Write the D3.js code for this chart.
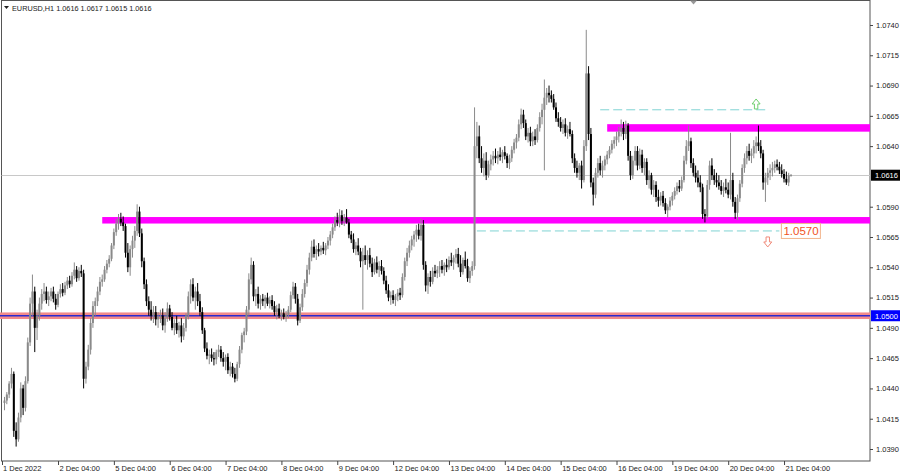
<!DOCTYPE html>
<html>
<head>
<meta charset="utf-8">
<script src="https://cdn.jsdelivr.net/npm/d3@7"></script>
<style>
  body { margin: 0; background: #fff; }
  svg text { font-family: "Liberation Sans", Arial, sans-serif; }
</style>
</head>
<body>
<svg id="chart" width="900" height="472"></svg>
<script>
// EURUSD H1 bars, each [open, high, low, close] in pips above 1.0000
const dec01 = [
  [428,433,422,430],[430,437,427,435],[435,446,432,444],[444,457,440,452],[452,454,400,405],
  [405,412,392,398],[398,420,396,416],[416,445,412,440],[440,443,418,424],[424,450,421,446],
  [446,482,444,478],[478,515,475,510],[510,534,500,520],[520,524,470,490],[490,505,480,500],
  [500,515,496,510],[510,522,505,518],[518,527,512,520],[520,524,510,513]];
const dec02 = [
  [513,520,508,516],[516,523,512,520],[520,524,511,514],[514,518,505,509],[509,520,507,518],
  [518,526,515,522],[522,527,516,519],[519,528,517,525],[525,532,522,529],[529,533,523,526],
  [526,536,524,533],[533,544,530,538],[538,541,528,531],[531,540,529,537],[537,542,532,535],
  [535,538,440,448],[448,462,444,458],[458,476,455,472],[472,498,468,494],[494,512,490,508],
  [508,515,500,512],[512,524,508,520],[520,532,517,528],[528,534,524,530]];
const dec05 = [
  [530,541,528,538],[538,546,535,543],[543,550,540,547],[547,560,545,558],[558,572,555,569],
  [569,580,566,576],[576,584,571,580],[580,585,574,577],[577,582,570,574],[574,576,548,552],
  [552,560,536,540],[540,558,533,555],[555,566,548,562],[562,574,556,570],[570,592,566,586],
  [586,590,565,568],[568,572,540,545],[545,548,522,526],[526,530,508,512],[512,516,500,505],
  [505,512,496,500],[500,508,494,503],[503,508,492,497],[497,503,490,499]];
const dec06 = [
  [499,505,494,500],[500,506,488,492],[492,503,486,498],[498,511,495,506],[506,509,496,499],
  [499,503,488,490],[490,497,484,494],[494,500,485,488],[488,495,482,492],[492,498,478,483],
  [483,494,480,490],[490,502,487,500],[500,520,497,516],[516,530,510,526],[526,531,512,515],
  [515,524,505,520],[520,527,508,512],[512,518,500,503],[503,507,485,488],[488,490,470,473],
  [473,478,464,467],[467,472,460,468],[468,473,462,465],[465,470,459,464]];
const dec07 = [
  [464,472,460,470],[470,476,466,472],[472,475,462,465],[465,470,458,462],[462,468,455,466],
  [466,469,452,455],[455,462,450,458],[458,461,449,452],[452,457,445,448],[448,462,446,460],
  [460,475,457,472],[472,486,469,484],[484,490,478,487],[487,508,484,505],[505,535,500,530],
  [530,548,526,542],[542,545,512,516],[516,522,508,518],[518,524,506,510],[510,517,505,514],
  [514,518,508,512],[512,517,506,515],[515,519,508,510],[510,516,506,513]];
const dec08 = [
  [513,517,505,508],[508,512,500,503],[503,509,497,506],[506,510,498,500],[500,505,496,502],
  [502,506,497,499],[499,504,495,501],[501,508,498,505],[505,520,503,517],[517,528,514,524],
  [524,527,510,514],[514,518,492,496],[496,510,494,507],[507,522,504,518],[518,530,515,527],
  [527,542,524,538],[538,552,534,548],[548,562,545,557],[557,563,548,551],[551,558,546,555],
  [555,560,549,553],[553,558,550,556],[556,561,551,554],[554,560,550,558]];
const dec09 = [
  [558,565,555,562],[562,570,558,567],[567,576,564,573],[573,582,570,579],[579,585,574,577],
  [577,588,573,583],[583,587,575,578],[578,584,574,581],[581,588,576,577],[577,580,564,567],
  [567,570,560,563],[563,568,552,555],[555,561,550,558],[558,564,550,553],[553,556,540,545],
  [545,556,505,550],[550,558,542,546],[546,554,538,550],[550,556,540,543],[543,548,532,536],
  [536,547,534,544],[544,549,535,538],[538,545,532,541],[541,546,534,537]];
const dec12 = [
  [537,540,526,529],[529,533,518,521],[521,526,512,515],[515,520,509,517],[517,521,510,513],
  [513,518,508,516],[516,522,512,519],[519,523,513,517],[517,535,515,532],[532,548,529,545],
  [545,556,541,552],[552,562,548,558],[558,566,554,563],[563,570,557,567],[567,575,561,571],
  [571,576,563,566],[566,580,562,575],[575,579,538,542],[542,545,520,525],[525,535,518,532],
  [532,537,524,528],[528,540,526,537],[537,542,532,535],[535,541,531,538]];
const dec13 = [
  [538,545,532,541],[541,546,535,538],[538,544,533,542],[542,547,536,540],[540,549,538,546],
  [546,552,541,544],[544,550,538,548],[548,555,543,551],[551,556,540,543],[543,550,532,536],
  [536,548,534,546],[546,553,539,541],[541,547,528,531],[531,540,527,537],[537,545,533,541],
  [541,672,538,640],[640,660,630,648],[648,657,626,630],[630,640,618,622],[622,634,615,628],
  [628,635,612,616],[616,628,614,625],[625,633,620,629],[629,636,624,632]];
const dec14 = [
  [632,638,626,630],[630,636,625,633],[633,639,628,631],[631,637,626,635],[635,640,629,632],
  [632,634,622,626],[626,633,621,630],[630,640,627,637],[637,646,634,643],[643,650,638,647],
  [647,662,644,658],[658,671,654,666],[666,670,655,659],[659,662,645,648],[648,655,643,651],
  [651,656,640,644],[644,652,640,648],[648,654,641,645],[645,658,643,655],[655,668,652,664],
  [664,675,658,670],[670,695,620,680],[680,688,674,684],[684,690,676,682]];
const dec15 = [
  [682,686,676,679],[679,683,670,672],[672,676,660,663],[663,668,656,660],[660,664,652,655],
  [655,662,650,658],[658,663,648,651],[651,657,646,654],[654,660,648,650],[650,653,626,630],
  [630,634,618,622],[622,628,614,618],[618,626,612,624],[624,628,605,612],[612,645,610,640],
  [640,736,636,700],[700,706,645,650],[650,655,606,610],[610,614,591,600],[600,622,597,618],
  [618,630,614,626],[626,632,616,620],[620,628,614,624],[624,632,620,629]];
const dec16 = [
  [629,636,625,633],[633,640,630,637],[637,645,634,642],[642,648,638,645],[645,652,640,648],
  [648,656,643,652],[652,662,648,655],[655,660,645,650],[650,661,646,657],[657,659,628,632],
  [632,636,612,616],[616,632,613,628],[628,640,624,636],[636,640,620,624],[624,638,621,633],
  [633,637,618,622],[622,630,616,627],[627,630,608,612],[612,620,605,616],[616,618,600,604],
  [604,612,598,608],[608,611,594,598],[598,604,590,595],[595,602,591,599]];
const dec19 = [
  [599,603,590,593],[593,597,584,587],[587,592,581,590],[590,598,587,595],[595,602,591,599],
  [599,606,596,603],[603,610,600,607],[607,612,602,605],[605,615,603,612],[612,632,610,628],
  [628,645,625,640],[640,657,636,644],[644,647,622,626],[626,630,615,618],[618,624,610,614],
  [614,620,606,610],[610,616,602,606],[606,609,580,584],[584,588,577,582],[582,612,580,608],
  [608,628,604,624],[624,630,612,616],[616,621,608,612],[612,618,606,610]];
const dec20 = [
  [610,616,604,607],[607,612,600,603],[603,610,598,606],[606,613,601,604],[604,610,597,600],
  [600,651,596,612],[612,618,590,594],[594,598,580,585],[585,600,579,597],[597,612,594,609],
  [609,625,606,622],[622,634,618,630],[630,640,625,636],[636,642,628,632],[632,638,626,634],
  [634,645,630,640],[640,648,634,643],[643,657,636,640],[640,645,630,634],[634,637,604,610],
  [610,618,594,614],[614,622,608,618],[618,625,612,620],[620,627,615,622]];
const dec21 = [
  [622,628,618,625],[625,629,620,623],[623,627,617,620],[620,625,614,617],[617,621,610,613],
  [613,619,608,610],[610,618,607,616],[616,617,615,616]];

// day name, first hour shown, bars
const days = [
  ["1 Dec", 5, dec01], ["2 Dec", 0, dec02], ["5 Dec", 0, dec05], ["6 Dec", 0, dec06],
  ["7 Dec", 0, dec07], ["8 Dec", 0, dec08], ["9 Dec", 0, dec09], ["12 Dec", 0, dec12],
  ["13 Dec", 0, dec13], ["14 Dec", 0, dec14], ["15 Dec", 0, dec15], ["16 Dec", 0, dec16],
  ["19 Dec", 0, dec19], ["20 Dec", 0, dec20], ["21 Dec", 0, dec21]];

const priceTicks = [1.0390, 1.0415, 1.0440, 1.0465, 1.0490, 1.0515, 1.0540, 1.0565,
                    1.0590, 1.0640, 1.0665, 1.0690, 1.0715, 1.0740];
const lastBar = [1.0616, 1.0617, 1.0615, 1.0616];
const roundLevel = 1.0500;
const supportZone = 1.0579;
const resistZone = 1.0655;
const upTarget = 1.0670;
const downTarget = 1.0570;

// flatten bars and build the time labels
var bars = [], timeTicks = [];
days.forEach(function(day, di) {
  day[2].forEach(function(r, k) {
    var hour = day[1] + k;
    if (di === 0 && k === 0) timeTicks.push({ i: bars.length, text: day[0] + " 2022" });
    else if (hour === 4) timeTicks.push({ i: bars.length, text: day[0] + " 04:00" });
    bars.push({ i: bars.length, o: 1 + r[0] / 1e4, h: 1 + r[1] / 1e4, l: 1 + r[2] / 1e4, c: 1 + r[3] / 1e4 });
  });
});
function barIndex(dayName, hour) {
  var n = 0;
  for (var d of days) {
    if (d[0] === dayName) return n + hour - d[1];
    n += d[2].length;
  }
}

var plotL = 1.5, plotR = 870, plotT = 0.5, plotB = 461;
var svg = d3.select("#chart");
var bullCol = "#8a8a8a", bearCol = "#000";

var x = d3.scaleLinear().domain([0, bars.length - 1]).range([4.5, 4.5 + (bars.length - 1) * 2.327]);
var y = d3.scaleLinear().domain([1.03801, 1.07598]).range([plotB, 1]);

// frame
svg.append("rect").attr("x", plotL).attr("y", plotT)
  .attr("width", plotR - plotL).attr("height", plotB - plotT)
  .attr("fill", "#fff").attr("stroke", "#555").attr("stroke-width", 1);

// 1.0500 round level (pink band with blue line)
svg.append("rect").attr("x", 0).attr("width", plotR)
  .attr("y", y(roundLevel) - 3.3).attr("height", 6.6).attr("fill", "#f28a8a");
svg.append("line").attr("x1", 0).attr("x2", plotR)
  .attr("y1", y(roundLevel)).attr("y2", y(roundLevel))
  .attr("stroke", "#2a2ad0").attr("stroke-width", 1.5);

// magenta zones
svg.append("rect").attr("x", x(barIndex("2 Dec", 23))).attr("width", plotR - x(barIndex("2 Dec", 23)))
  .attr("y", y(supportZone) - 3).attr("height", 6.5).attr("fill", "#ff00ff");
svg.append("rect").attr("x", x(barIndex("16 Dec", 0))).attr("width", plotR - x(barIndex("16 Dec", 0)))
  .attr("y", y(resistZone) - 3.8).attr("height", 7.5).attr("fill", "#ff00ff");

// last price line
svg.append("line").attr("x1", plotL).attr("x2", plotR)
  .attr("y1", Math.round(y(lastBar[3])) + 0.5).attr("y2", Math.round(y(lastBar[3])) + 0.5)
  .attr("stroke", "#c8c8c8").attr("stroke-width", 1);

// target dashed lines
svg.append("line").attr("x1", x(barIndex("15 Dec", 21))).attr("x2", x(barIndex("20 Dec", 20)))
  .attr("y1", y(upTarget)).attr("y2", y(upTarget))
  .attr("stroke", "#7fd3d3").attr("stroke-width", 1).attr("stroke-dasharray", "9,4");
svg.append("line").attr("x1", x(barIndex("13 Dec", 16))).attr("x2", x(barIndex("21 Dec", 2)))
  .attr("y1", y(downTarget)).attr("y2", y(downTarget))
  .attr("stroke", "#7fd3d3").attr("stroke-width", 1).attr("stroke-dasharray", "9,4");

// candles
var candles = svg.append("g");
candles.selectAll("line").data(bars).enter().append("line")
  .attr("x1", function(d) { return x(d.i); })
  .attr("x2", function(d) { return x(d.i); })
  .attr("y1", function(d) { return y(d.h); })
  .attr("y2", function(d) { return y(d.l); })
  .attr("stroke", function(d) { return d.c >= d.o ? bullCol : bearCol; })
  .attr("stroke-width", 1);
candles.selectAll("rect").data(bars).enter().append("rect")
  .attr("x", function(d) { return x(d.i) - 1; })
  .attr("width", 2)
  .attr("y", function(d) { return y(Math.max(d.o, d.c)); })
  .attr("height", function(d) { return Math.max(1, Math.abs(y(d.o) - y(d.c))); })
  .attr("fill", function(d) { return d.c >= d.o ? bullCol : bearCol; });

// arrows
function arrowPath(s) { // 1 = up, -1 = down
  return "M0," + (-5 * s) + "L4,0L1.7,0L1.7," + (5 * s) + "L-1.7," + (5 * s) + "L-1.7,0L-4,0Z";
}
svg.append("path").attr("d", arrowPath(1))
  .attr("transform", "translate(" + x(barIndex("20 Dec", 16)) + "," + y(1.06748) + ")")
  .attr("fill", "none").attr("stroke", "#6fcf6f").attr("stroke-width", 1);
svg.append("path").attr("d", arrowPath(-1))
  .attr("transform", "translate(" + x(barIndex("20 Dec", 21)) + "," + y(1.05609) + ")")
  .attr("fill", "none").attr("stroke", "#f08a7a").attr("stroke-width", 1);

// 1.0570 label
var lx = x(barIndex("21 Dec", 2)) + 2;
svg.append("rect").attr("x", lx).attr("y", y(downTarget) - 7.5).attr("width", 39).attr("height", 15)
  .attr("fill", "#fff").attr("stroke", "#f2b48c").attr("stroke-width", 1);
svg.append("text").attr("x", lx + 2).attr("y", y(downTarget) + 4.2)
  .attr("font-size", 11.5).attr("fill", "#f0541e").text(d3.format(".4f")(downTarget));

// price axis
var yAxis = svg.append("g").attr("transform", "translate(" + plotR + ",0)")
  .call(d3.axisRight(y).tickValues(priceTicks).tickSize(3).tickPadding(3)
    .tickFormat(d3.format(".4f")));
yAxis.select(".domain").remove();
yAxis.selectAll("line").attr("stroke", "#444");
yAxis.selectAll("text").attr("font-size", 7.5).attr("fill", "#222").attr("font-family", "Liberation Sans, Arial");

// price boxes
function priceBox(v, fill) {
  svg.append("rect").attr("x", plotR + 1).attr("y", y(v) - 5.5).attr("width", 29).attr("height", 11)
    .attr("fill", fill);
  svg.append("text").attr("x", plotR + 5).attr("y", y(v) + 3)
    .attr("font-size", 7.5).attr("fill", "#fff").text(d3.format(".4f")(v));
}
priceBox(lastBar[3], "#000");
priceBox(roundLevel, "#0000ff");

// time axis
var xAxis = svg.append("g").attr("transform", "translate(0," + plotB + ")")
  .call(d3.axisBottom(x).tickValues(timeTicks.map(function(t) { return t.i; }))
    .tickSize(4).tickPadding(1)
    .tickFormat(function(i) { return timeTicks.find(function(t) { return t.i === i; }).text; }));
xAxis.select(".domain").remove();
xAxis.selectAll("line").attr("stroke", "#444")
  .attr("transform", function(i) { return i === 0 ? "translate(-2.5,0)" : null; });
xAxis.selectAll("text").attr("text-anchor", "start").attr("dx", function(i) { return i === 0 ? -2 : 1; })
  .attr("font-size", 7.5).attr("fill", "#222").attr("font-family", "Liberation Sans, Arial");

// header
svg.append("path").attr("d", "M4,6L9,6L6.5,9Z").attr("fill", "#222");
svg.append("text").attr("x", 12).attr("y", 10.5).attr("font-size", 7.3).attr("fill", "#222")
  .text("EURUSD,H1  " + lastBar.map(d3.format(".4f")).join(" "));

// chart shift marker
svg.append("path").attr("d", "M690,0.5L697,0.5L693.5,4.5Z").attr("fill", "#999");
</script>
</body>
</html>
